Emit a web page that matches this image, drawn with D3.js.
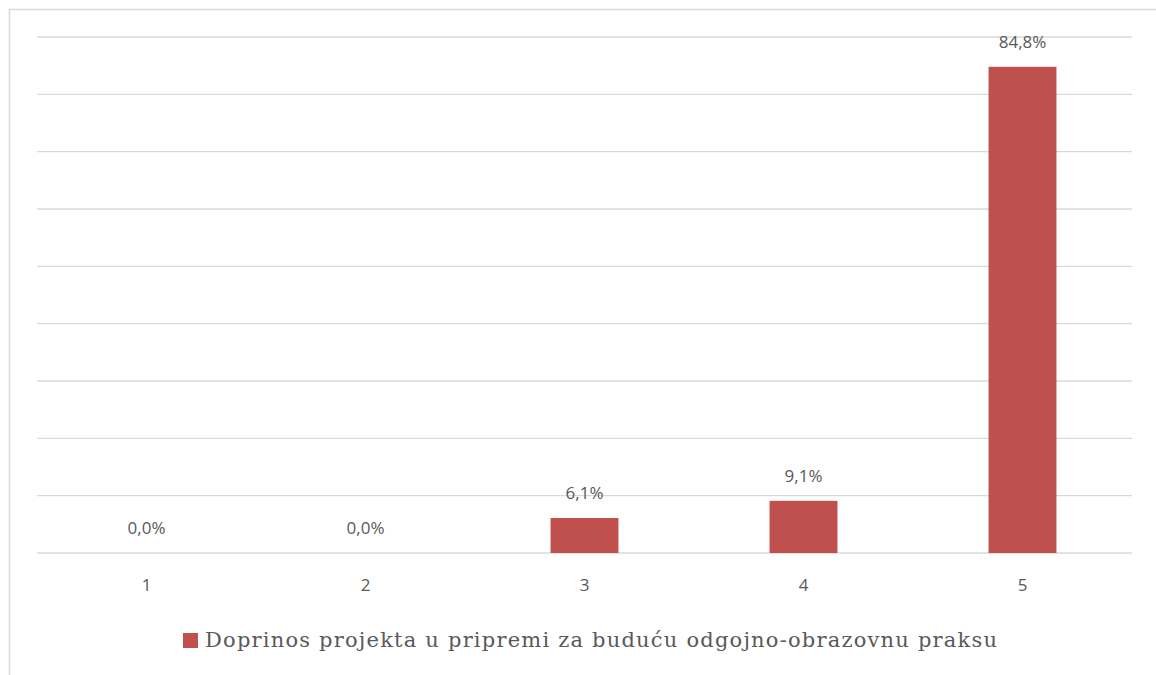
<!DOCTYPE html>
<html>
<head>
<meta charset="utf-8">
<script src="https://cdn.jsdelivr.net/npm/d3@7"></script>
<style>
  body { margin: 0; background: #fff; }
  svg { display: block; }
</style>
</head>
<body>
<script>
// data
const categories = ["1", "2", "3", "4", "5"]
const values = [0.0, 0.0, 6.1, 9.1, 84.8]
const seriesName = "Doprinos projekta u pripremi za buduću odgojno-obrazovnu praksu"
const yTicks = [0, 10, 20, 30, 40, 50, 60, 70, 80, 90]

const width = 1156, height = 675
const plot = { left: 37, right: 1132, top: 37, bottom: 553 }

let svg = d3.select("body").append("svg")
    .attr("width", width)
    .attr("height", height)

// outer chart frame (runs off the right and bottom edge)
svg.append("rect")
    .attr("x", 9.5).attr("y", 9.5)
    .attr("width", 1160).attr("height", 700)
    .attr("fill", "none")
    .attr("stroke", "#d9d9d9")
    .attr("stroke-width", 1.5)

let x = d3.scaleBand()
    .domain(categories)
    .range([plot.left, plot.right])
    .paddingInner(0.69)
    .paddingOuter(0.345)

let y = d3.scaleLinear()
    .domain([0, 90])
    .range([plot.bottom, plot.top])

// gridlines
svg.append("g")
    .selectAll("line")
    .data(yTicks)
    .enter()
    .append("line")
    .attr("x1", plot.left)
    .attr("x2", plot.right)
    .attr("y1", d => y(d))
    .attr("y2", d => y(d))
    .attr("stroke", "#d9d9d9")
    .attr("stroke-width", 1.3)

// bars
svg.append("g")
    .selectAll("rect")
    .data(values)
    .enter()
    .append("rect")
    .attr("x", (d, i) => x(categories[i]))
    .attr("y", d => y(d))
    .attr("width", x.bandwidth())
    .attr("height", d => plot.bottom - y(d))
    .attr("fill", "#c0504d")

// value labels
svg.append("g")
    .selectAll("text")
    .data(values)
    .enter()
    .append("text")
    .attr("x", (d, i) => x(categories[i]) + x.bandwidth() / 2)
    .attr("y", d => y(d) - 19)
    .attr("text-anchor", "middle")
    .attr("font-family", "'Open Sans', sans-serif")
    .attr("font-size", 17)
    .attr("fill", "#595959")
    .text(d => d.toFixed(1).replace(".", ",") + "%")

// category axis labels
let xAxis = svg.append("g")
    .attr("transform", `translate(0, ${plot.bottom})`)
    .call(d3.axisBottom(x).tickSize(0).tickPadding(26))
xAxis.select(".domain").remove()
xAxis.selectAll("text")
    .attr("font-family", "'Open Sans', sans-serif")
    .attr("font-size", 17)
    .attr("fill", "#595959")

// legend
svg.append("rect")
    .attr("x", 183).attr("y", 633)
    .attr("width", 15).attr("height", 15)
    .attr("fill", "#c0504d")
svg.append("text")
    .attr("x", 205)
    .attr("y", 647)
    .attr("font-family", "'DejaVu Serif', serif")
    .attr("font-size", 21)
    .attr("fill", "#595959")
    .attr("textLength", 792)
    .attr("lengthAdjust", "spacing")
    .text(seriesName)
</script>
</body>
</html>
